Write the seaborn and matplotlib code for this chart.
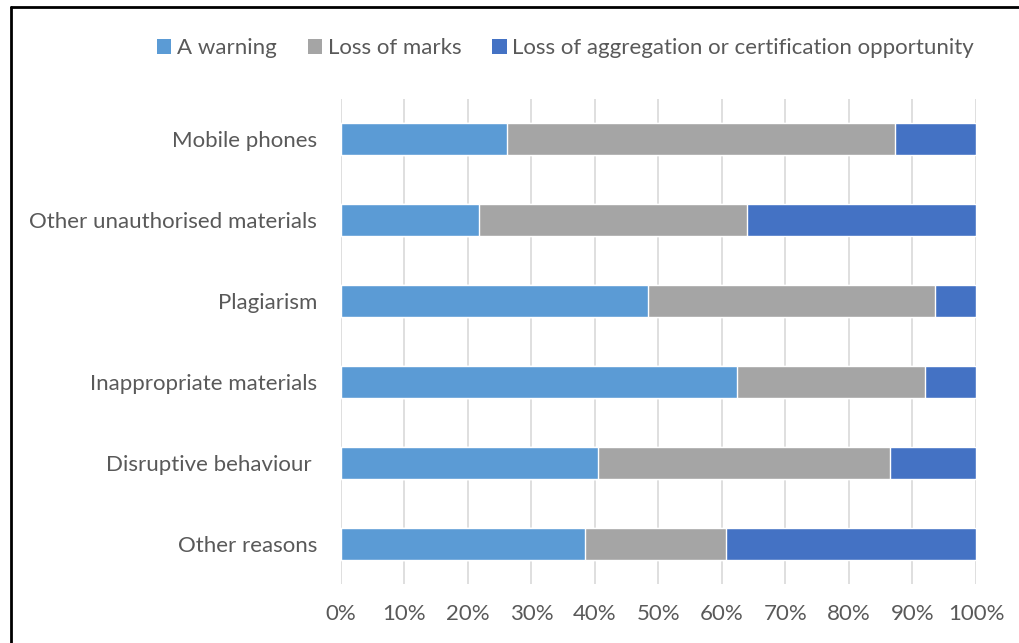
import pandas as pd
import matplotlib.pyplot as plt
import seaborn as sns
from matplotlib.patches import Patch
from matplotlib.lines import Line2D
from matplotlib.ticker import PercentFormatter

# Data (percent of penalties per reason)
categories = ["Mobile phones", "Other unauthorised materials", "Plagiarism",
              "Inappropriate materials", "Disruptive behaviour ", "Other reasons"]
warning = [26.1, 21.8, 48.4, 62.4, 40.5, 38.4]
loss_marks = [61.1, 42.1, 45.1, 29.6, 46.0, 22.2]
loss_aggr = [12.8, 36.1, 6.5, 8.0, 13.5, 39.4]
series_names = ["A warning", "Loss of marks",
                "Loss of aggregation or certification opportunity"]
colors = ["#5B9BD5", "#A5A5A5", "#4472C4"]

df = pd.DataFrame({"cat": categories, "warn": warning,
                   "marks": loss_marks, "aggr": loss_aggr})
df["c2"] = df["warn"] + df["marks"]
df["c3"] = df["c2"] + df["aggr"]

sns.set_style("white")
plt.rcParams["font.family"] = ["Lato", "DejaVu Sans"]
text_col = "#595959"
fs = 16

fig = plt.figure(figsize=(10.19, 6.43), dpi=100)
ax = fig.add_axes([0.3346, 0.0910, 0.6232, 0.7558])

# stacked bars: draw cumulative totals back to front
sns.barplot(data=df, x="c3", y="cat", color=colors[2], width=0.4,
            orient="h", ax=ax, saturation=1, zorder=3)
sns.barplot(data=df, x="c2", y="cat", color=colors[1], width=0.4,
            orient="h", ax=ax, saturation=1, zorder=3)
sns.barplot(data=df, x="warn", y="cat", color=colors[0], width=0.4,
            orient="h", ax=ax, saturation=1, zorder=3)

ax.set_xlim(0, 100)
ax.set_xticks(range(0, 101, 10))
ax.xaxis.set_major_formatter(PercentFormatter(decimals=0))
ax.grid(axis="x", color="#D9D9D9", linewidth=1.2, zorder=0)
for s in ax.spines.values():
    s.set_visible(False)
ax.set_xlabel("")
ax.set_ylabel("")
ax.tick_params(axis="both", length=0, labelsize=fs, labelcolor=text_col)
ax.tick_params(axis="y", pad=17)
ax.tick_params(axis="x", pad=14)

handles = [Patch(facecolor=c, edgecolor="none") for c in colors]
fig.legend(handles, series_names, loc="center", bbox_to_anchor=(0.555, 0.925),
           ncol=3, frameon=False, fontsize=fs, labelcolor=text_col,
           handlelength=0.65, handleheight=0.65, handletextpad=0.25,
           columnspacing=1.4)

# outer frame (only left and top edges visible in the crop)
fig.add_artist(Line2D([11 / 1019, 11 / 1019], [0, 1 - 7 / 643],
                      transform=fig.transFigure, color="black", linewidth=2))
fig.add_artist(Line2D([11 / 1019, 1], [1 - 7 / 643, 1 - 7 / 643],
                      transform=fig.transFigure, color="black", linewidth=2))

fig.savefig("out.png", dpi=100)
